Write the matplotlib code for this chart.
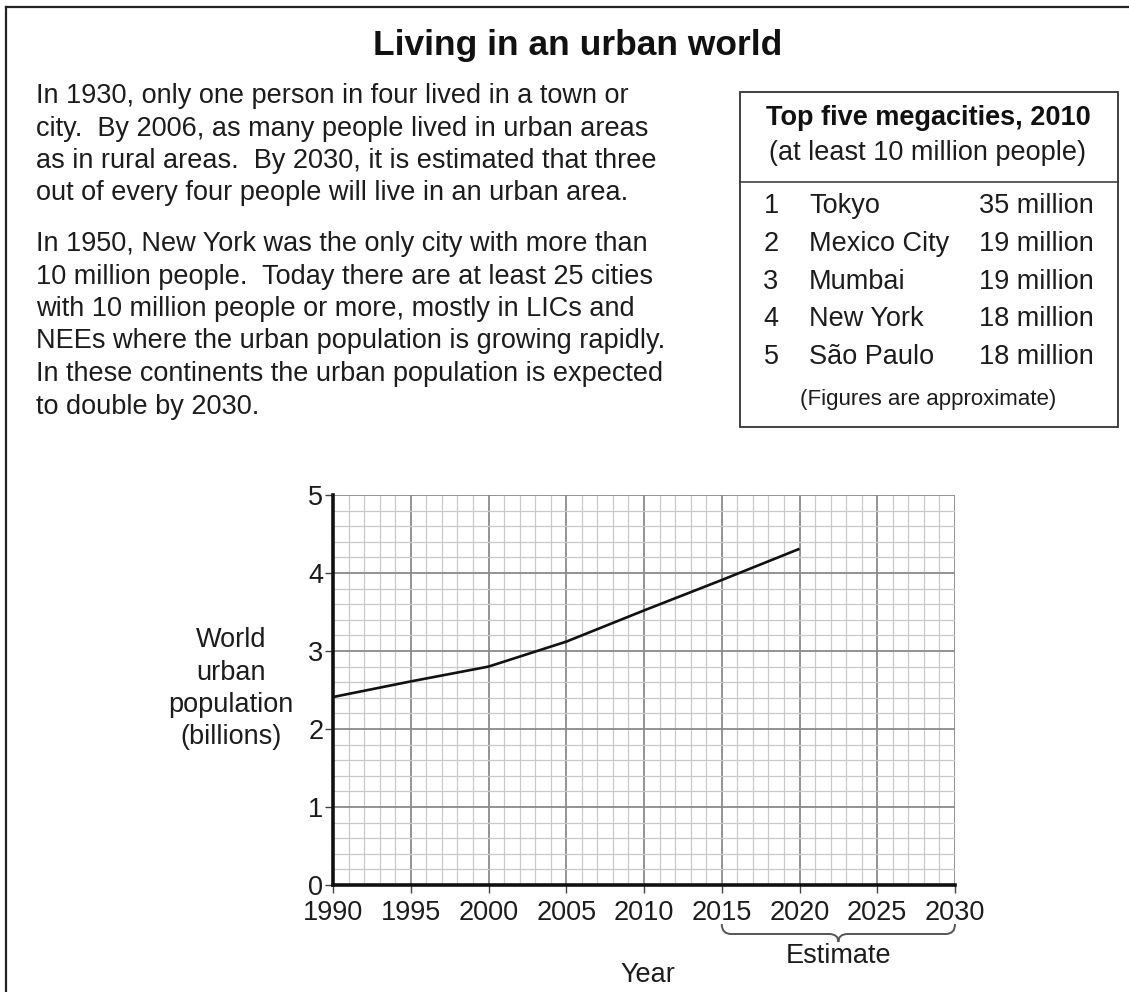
import matplotlib
matplotlib.use("Agg")
import matplotlib.pyplot as plt
from matplotlib.ticker import MultipleLocator
from matplotlib.path import Path
from matplotlib.patches import PathPatch, Rectangle
from matplotlib.transforms import blended_transform_factory
from matplotlib.lines import Line2D

plt.rcParams['font.family'] = ['Liberation Sans', 'DejaVu Sans']

# ---- data ----
years = [1990, 1995, 2000, 2005, 2010, 2015, 2020]
urban_pop = [2.41, 2.61, 2.80, 3.12, 3.52, 3.91, 4.31]
x_ticks = [1990, 1995, 2000, 2005, 2010, 2015, 2020, 2025, 2030]
y_ticks = [0, 1, 2, 3, 4, 5]

ranks = ["1", "2", "3", "4", "5"]
cities = ["Tokyo", "Mexico City", "Mumbai", "New York", "São Paulo"]
populations = ["35 million", "19 million", "19 million", "18 million", "18 million"]

title = "Living in an urban world"
para1 = ["In 1930, only one person in four lived in a town or",
         "city.  By 2006, as many people lived in urban areas",
         "as in rural areas.  By 2030, it is estimated that three",
         "out of every four people will live in an urban area."]
para2 = ["In 1950, New York was the only city with more than",
         "10 million people.  Today there are at least 25 cities",
         "with 10 million people or more, mostly in LICs and",
         "NEEs where the urban population is growing rapidly.",
         "In these continents the urban population is expected",
         "to double by 2030."]
box_title = "Top five megacities, 2010"
box_sub = "(at least 10 million people)"
box_note = "(Figures are approximate)"
ylabel_lines = ["World", "urban", "population", "(billions)"]
xlabel = "Year"
estimate_label = "Estimate"
estimate_range = [2015, 2030]

W, H = 1129, 992
fig = plt.figure(figsize=(W / 100, H / 100), dpi=100)
TC = '#1c1c1c'
FS = 19.5

def fx(x):
    return x / W

def fy(y):
    return 1 - y / H

# page border (top and left)
fig.add_artist(Line2D([fx(6), 1.0], [fy(7), fy(7)], color='#222', lw=1.6))
fig.add_artist(Line2D([fx(6), fx(6)], [fy(7), 0.0], color='#222', lw=1.6))

# title
fig.text(fx(578), fy(45), title, ha='center', va='center', fontsize=25.5,
         fontweight='bold', color='#111')

# paragraphs
for i, line in enumerate(para1):
    fig.text(fx(36), fy(96 + i * 32.5), line, ha='left', va='center',
             fontsize=FS, color=TC)
for i, line in enumerate(para2):
    fig.text(fx(36), fy(244 + i * 32.5), line, ha='left', va='center',
             fontsize=FS, color=TC)

# table box
fig.add_artist(Rectangle((fx(740), fy(427)), fx(1118) - fx(740), fy(92) - fy(427),
                         transform=fig.transFigure, fill=False, ec='#333', lw=1.3))
fig.add_artist(Line2D([fx(740), fx(1118)], [fy(182), fy(182)], color='#333', lw=1.1))
fig.text(fx(928), fy(118), box_title, ha='center', va='center', fontsize=19.5,
         fontweight='bold', color='#111')
fig.text(fx(928), fy(153), box_sub, ha='center', va='center', fontsize=19.5, color=TC)
for i in range(len(cities)):
    yy = fy(206 + i * 37.8)
    fig.text(fx(771), yy, ranks[i], ha='center', va='center', fontsize=19.5, color=TC)
    fig.text(fx(809), yy, cities[i], ha='left', va='center', fontsize=19.5, color=TC)
    fig.text(fx(1094), yy, populations[i], ha='right', va='center', fontsize=19.5, color=TC)
fig.text(fx(928), fy(399), box_note, ha='center', va='center', fontsize=16, color=TC)

# chart
ax = fig.add_axes([fx(333), fy(885), fx(955) - fx(333), fy(495) - fy(885)])
ax.set_xlim(1990, 2030)
ax.set_ylim(0, 5)
ax.xaxis.set_major_locator(MultipleLocator(5))
ax.xaxis.set_minor_locator(MultipleLocator(1))
ax.yaxis.set_major_locator(MultipleLocator(1))
ax.yaxis.set_minor_locator(MultipleLocator(0.2))
ax.grid(which='minor', color='#c9c9c9', lw=0.9)
ax.grid(which='major', color='#8a8a8a', lw=1.3)
ax.set_axisbelow(True)
ax.set_xticks(x_ticks)
ax.set_yticks(y_ticks)
ax.set_xticklabels([str(v) for v in x_ticks])
ax.set_yticklabels([str(v) for v in y_ticks])
ax.tick_params(which='major', direction='out', length=6, width=1.0, color='#444',
               labelsize=19.5, labelcolor=TC)
ax.tick_params(axis='y', pad=1)
ax.tick_params(axis='x', pad=5)
ax.tick_params(which='minor', length=0)
for s in ['top', 'right']:
    ax.spines[s].set_visible(False)
ax.spines['left'].set_linewidth(2.6)
ax.spines['bottom'].set_linewidth(2.6)
ax.spines['left'].set_color('#111')
ax.spines['bottom'].set_color('#111')

ax.plot(years, urban_pop, color='#111', lw=1.9, solid_capstyle='butt', zorder=3)

# y label
for i, line in enumerate(ylabel_lines):
    fig.text(fx(231), fy(640 + i * 32.5), line, ha='center', va='center',
             fontsize=FS, color=TC)
# x label
fig.text(fx(648), fy(975), xlabel, ha='center', va='center', fontsize=FS, color=TC)

# estimate brace
tr = blended_transform_factory(ax.transData, fig.transFigure)
x0, x1 = estimate_range
xm = (x0 + x1) / 2
dx = 0.6
yb_top, yb_mid, yb_tip = fy(924), fy(934), fy(942)
verts = [(x0, yb_top), (x0, yb_mid), (x0 + dx, yb_mid),
         (xm - dx, yb_mid), (xm, yb_mid), (xm, yb_tip),
         (xm, yb_mid), (xm + dx, yb_mid),
         (x1 - dx, yb_mid), (x1, yb_mid), (x1, yb_top)]
codes = [Path.MOVETO, Path.CURVE3, Path.CURVE3,
         Path.LINETO, Path.CURVE3, Path.CURVE3,
         Path.CURVE3, Path.CURVE3,
         Path.LINETO, Path.CURVE3, Path.CURVE3]
fig.add_artist(PathPatch(Path(verts, codes), transform=tr, fill=False,
                         ec='#555', lw=1.4, clip_on=False))
fig.text(xm, fy(956), estimate_label, transform=tr, ha='center', va='center',
         fontsize=FS, color=TC)

fig.savefig("out.png", dpi=100, facecolor='white')
